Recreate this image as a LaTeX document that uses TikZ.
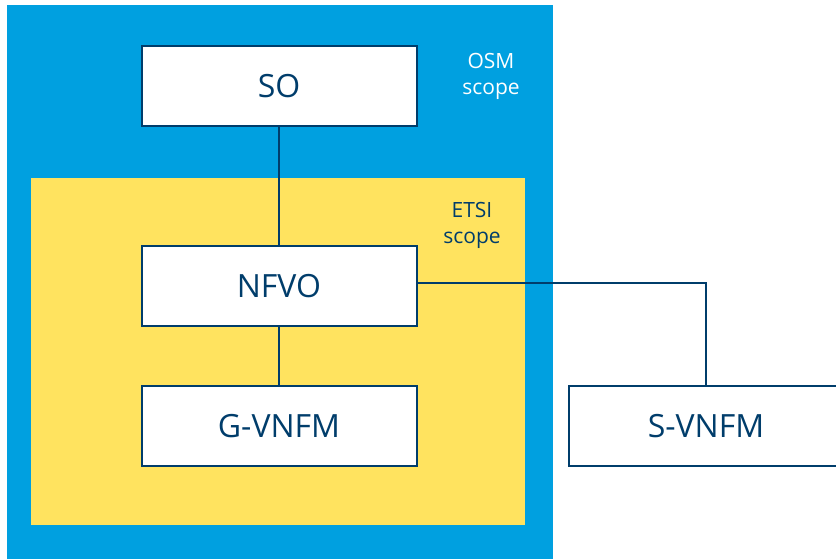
\documentclass[tikz,border=0pt]{standalone}
\usepackage{fontspec}
\setmainfont{Open Sans}
\usepackage{tikz}
\usetikzlibrary{positioning}
\definecolor{osmblue}{HTML}{00A0E0}
\definecolor{etsiyellow}{HTML}{FFE35F}
\definecolor{navy}{HTML}{003D6B}
\tikzstyle{block} = [draw=navy, line width=2pt, fill=white, rectangle,
    minimum height=80pt, minimum width=275pt, text=navy,
    font=\fontsize{32}{36}\selectfont]
\tikzstyle{scope} = [align=center, font=\fontsize{21}{26}\selectfont]
\tikzstyle{link} = [draw=navy, line width=2pt]
\begin{document}
\begin{tikzpicture}[x=1pt, y=-1pt]
    \useasboundingbox (0,0) rectangle (836,558);
    \fill [osmblue] (7,5) rectangle (553,560);
    \fill [etsiyellow] (31,178) rectangle (525,525);
    \node [block] at (279,86) (so) {\raisebox{-3pt}{SO}};
    \node [block] at (279,286) (nfvo) {\raisebox{-3pt}{NFVO}};
    \node [block] at (279,426) (gvnfm) {\raisebox{-3pt}{G-VNFM}};
    \node [block] at (706,426) (svnfm) {\raisebox{-3pt}{S-VNFM}};
    \node [scope, text=white] at (491,76) (osm) {OSM\\scope};
    \node [scope, text=navy] at (472,225) (etsi) {ETSI\\scope};
    \draw [link] (so) -- (nfvo);
    \draw [link] (nfvo) -- (gvnfm);
    \draw [link] ([yshift=3pt]nfvo.east) -| (svnfm.north);
\end{tikzpicture}
\end{document}
